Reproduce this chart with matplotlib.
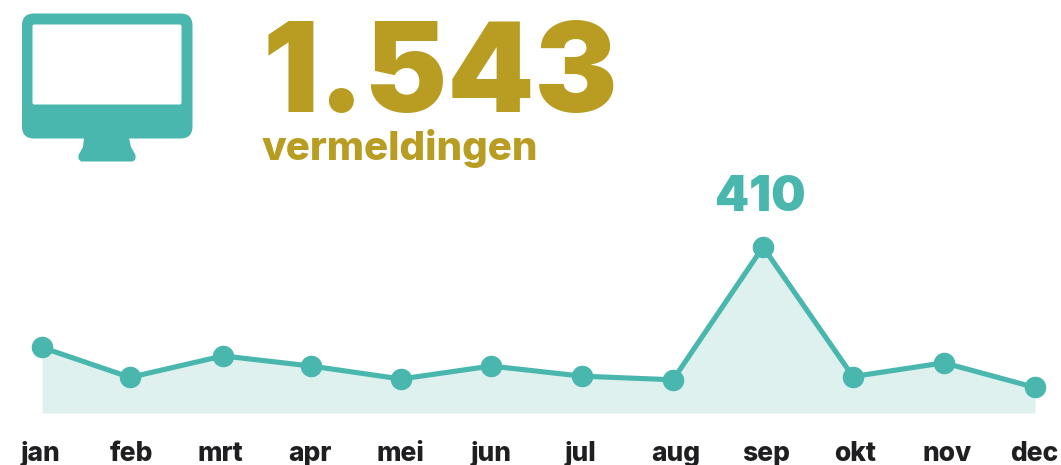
import matplotlib
matplotlib.use("Agg")
import matplotlib.pyplot as plt
from matplotlib.patches import FancyBboxPatch, Polygon

months = ["jan","feb","mrt","apr","mei","jun","jul","aug","sep","okt","nov","dec"]
values = [162, 88, 141, 116, 84, 116, 91, 82, 410, 90, 124, 63]
label_value = "410"
total = "1.543"
caption = "vermeldingen"
xs = [42,130,223,311,401,491,582,673,763,853,944,1035]
lx = [41,131,220,310,400,491,581,676,766,855,947,1034]
TEAL = "#49B7AE"; GOLD = "#B89D22"; FILL = "#DEF1EE"; DARK = "#1F1F22"
FONT = ["Inter","Lato","DejaVu Sans"]
W, H = 1061, 465
fig = plt.figure(figsize=(W/100, H/100), dpi=100, facecolor="white")
bg = fig.add_axes([0,0,1,1]); bg.set_xlim(0,W); bg.set_ylim(H,0); bg.axis("off")
# monitor icon
bg.add_patch(FancyBboxPatch((22,13.5),170.5,125,boxstyle="round,pad=0,rounding_size=12",fc=TEAL,ec="none"))
bg.add_patch(FancyBboxPatch((32.5,24.5),149,80,boxstyle="round,pad=0,rounding_size=2",fc="white",ec="none"))
bg.add_patch(Polygon([[84,138],[129,138],[131,147],[135.5,155],[135.5,159],[133,161.5],[81,161.5],[78.5,159],[78.5,155],[83,147]],closed=True,fc=TEAL,ec="none"))
bg.text(263,112,total,color=GOLD,fontsize=89.5,fontweight=900,family=FONT,va="baseline",ha="left")
bg.text(262,160,caption,color=GOLD,fontsize=29,fontweight=800,family=FONT,va="baseline",ha="left")
bg.text(760,211,label_value,color=TEAL,fontsize=35,fontweight=900,family=FONT,va="baseline",ha="center")
ax = fig.add_axes([0,0,1,1]); ax.patch.set_alpha(0)
ax.set_xlim(0,W)
base = 413; k = 166/410
ax.set_ylim(-(H-base)/k, base/k)
ax.fill_between(xs,values,0,color=FILL,lw=0)
ax.plot(xs,values,color=TEAL,lw=3.7,marker="o",ms=14.5,mfc=TEAL,mec=TEAL,solid_joinstyle="round")
ax.axis("off")
for x,m in zip(lx,months):
    bg.text(x,461,m,color=DARK,fontsize=19,fontweight=800,family=FONT,ha="center",va="baseline")
fig.savefig("out.png",dpi=100)
